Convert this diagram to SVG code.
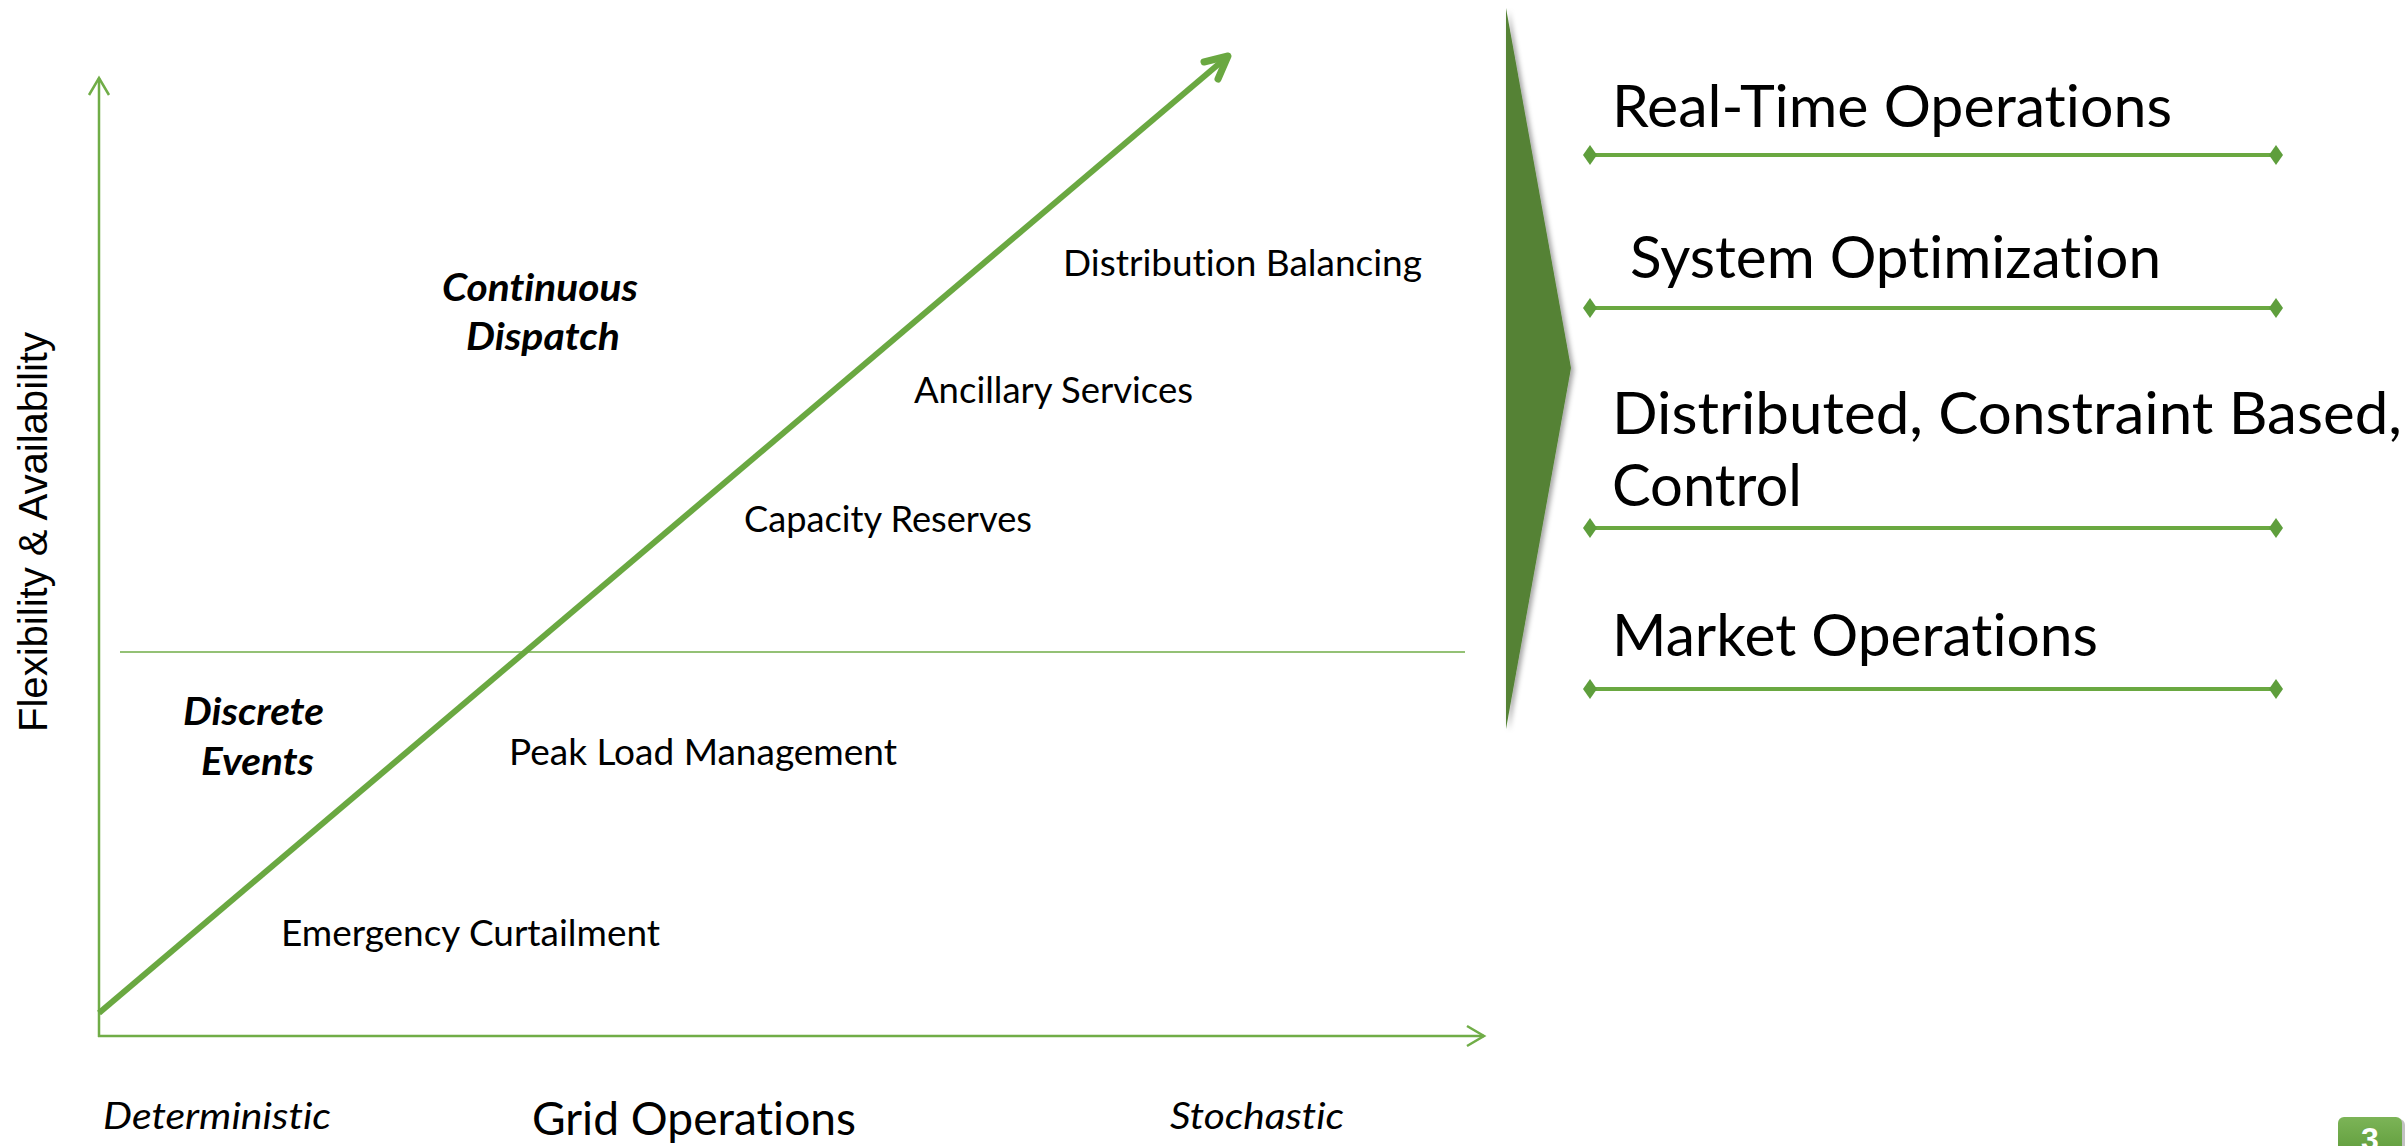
<svg xmlns="http://www.w3.org/2000/svg" width="2405" height="1146" viewBox="0 0 2405 1146">
  <style>
    text { font-variant-ligatures: none; font-feature-settings: "liga" 0, "clig" 0; }
    .lbl { font-family: Lato, "Open Sans", "Liberation Sans", sans-serif; font-size: 37px; fill: #000; }
    .em { font-family: Lato, "Open Sans", "Liberation Sans", sans-serif; font-size: 38px; font-weight: bold; font-style: italic; fill: #000; }
    .axisnote { font-family: Lato, "Open Sans", "Liberation Sans", sans-serif; font-size: 37px; font-style: italic; fill: #000; }
    .axistitle { font-family: Lato, "Open Sans", "Liberation Sans", sans-serif; font-size: 46px; fill: #000; }
    .big { font-family: Lato, "Open Sans", "Liberation Sans", sans-serif; font-size: 59px; fill: #000; }
    .axis { stroke: #70AD47; stroke-width: 2.5; fill: none; }
    .rule { stroke: #6AA841; stroke-width: 4; fill: none; }
    .dia { fill: #5E9E3C; }
  </style>
  <defs>
    <filter id="soft" x="-20%" y="-5%" width="160%" height="110%">
      <feGaussianBlur in="SourceAlpha" stdDeviation="2.5"/>
      <feOffset dx="3" dy="2" result="b"/>
      <feFlood flood-color="#000" flood-opacity="0.35"/>
      <feComposite in2="b" operator="in"/>
      <feMerge><feMergeNode/><feMergeNode in="SourceGraphic"/></feMerge>
    </filter>
    <linearGradient id="pg" x1="0" y1="0" x2="0" y2="1">
      <stop offset="0" stop-color="#7CB457"/>
      <stop offset="1" stop-color="#5E9B3A"/>
    </linearGradient>
  </defs>

  <rect width="2405" height="1146" fill="#fff"/>

  <!-- chart frame and trend -->
  <g id="connectors">
    <!-- vertical axis -->
    <path class="axis" d="M99 1037 V78"/>
    <path class="axis" d="M89 95 L99 78 L109 95"/>
    <!-- horizontal axis -->
    <path class="axis" d="M98 1036 H1484"/>
    <path class="axis" d="M1467 1026 L1484 1036 L1467 1046"/>
    <!-- threshold between regimes -->
    <path d="M120 652 H1465" stroke="#70AD47" stroke-width="1.6" fill="none"/>
    <!-- trend arrow -->
    <path d="M99 1013 L1227 57" stroke="#6AA841" stroke-width="6" fill="none"/>
    <path d="M1204 62 L1228 56 L1218 79" stroke="#6AA841" stroke-width="7" stroke-linecap="round" stroke-linejoin="round" fill="none"/>
  </g>

  <!-- axis titles -->
  <g id="y-title">
    <text x="0" y="0" transform="translate(47 532) rotate(-90)" text-anchor="middle" font-family="'Liberation Sans', Arial, sans-serif" font-size="40" textLength="400" lengthAdjust="spacingAndGlyphs">Flexibility &amp; Availability</text>
  </g>
  <g id="x-title">
    <text class="axisnote" x="103" y="1129" textLength="228" lengthAdjust="spacingAndGlyphs">Deterministic</text>
    <text class="axistitle" x="532" y="1135" textLength="324" lengthAdjust="spacingAndGlyphs">Grid Operations</text>
    <text class="axisnote" x="1170" y="1129" textLength="174" lengthAdjust="spacingAndGlyphs">Stochastic</text>
  </g>

  <!-- regime names -->
  <g id="continuous-dispatch">
    <text class="em" x="442" y="301" textLength="196" lengthAdjust="spacingAndGlyphs">Continuous</text>
    <text class="em" x="466" y="350" textLength="154" lengthAdjust="spacingAndGlyphs">Dispatch</text>
  </g>
  <g id="discrete-events">
    <text class="em" x="183" y="725" textLength="141" lengthAdjust="spacingAndGlyphs">Discrete</text>
    <text class="em" x="201" y="775" textLength="113" lengthAdjust="spacingAndGlyphs">Events</text>
  </g>

  <!-- services along the trend -->
  <g id="distribution-balancing"><text class="lbl" x="1063" y="276" textLength="359" lengthAdjust="spacingAndGlyphs">Distribution Balancing</text></g>
  <g id="ancillary-services"><text class="lbl" x="914" y="403" textLength="279" lengthAdjust="spacingAndGlyphs">Ancillary Services</text></g>
  <g id="capacity-reserves"><text class="lbl" x="744" y="532" textLength="288" lengthAdjust="spacingAndGlyphs">Capacity Reserves</text></g>
  <g id="peak-load"><text class="lbl" x="509" y="765" textLength="388" lengthAdjust="spacingAndGlyphs">Peak Load Management</text></g>
  <g id="emergency-curtailment"><text class="lbl" x="281" y="946" textLength="379" lengthAdjust="spacingAndGlyphs">Emergency Curtailment</text></g>

  <!-- chevron -->
  <g id="chevron">
    <polygon points="1506,8 1571,368 1506,729" fill="#548235" filter="url(#soft)"/>
  </g>

  <!-- capability list -->
  <g id="real-time">
    <text class="big" x="1612" y="127" textLength="560" lengthAdjust="spacingAndGlyphs">Real-Time Operations</text>
    <path class="rule" d="M1590 155 H2276"/>
    <polygon class="dia" points="1590,145 1597,155 1590,165 1583,155"/>
    <polygon class="dia" points="2276,145 2283,155 2276,165 2269,155"/>
  </g>
  <g id="system-optimization">
    <text class="big" x="1630" y="278" textLength="531" lengthAdjust="spacingAndGlyphs">System Optimization</text>
    <path class="rule" d="M1590 308 H2276"/>
    <polygon class="dia" points="1590,298 1597,308 1590,318 1583,308"/>
    <polygon class="dia" points="2276,298 2283,308 2276,318 2269,308"/>
  </g>
  <g id="distributed-control">
    <text class="big" x="1612" y="434" textLength="790" lengthAdjust="spacingAndGlyphs">Distributed, Constraint Based,</text>
    <text class="big" x="1612" y="506" textLength="190" lengthAdjust="spacingAndGlyphs">Control</text>
    <path class="rule" d="M1590 528 H2276"/>
    <polygon class="dia" points="1590,518 1597,528 1590,538 1583,528"/>
    <polygon class="dia" points="2276,518 2283,528 2276,538 2269,528"/>
  </g>
  <g id="market-operations">
    <text class="big" x="1612" y="656" textLength="486" lengthAdjust="spacingAndGlyphs">Market Operations</text>
    <path class="rule" d="M1590 689 H2276"/>
    <polygon class="dia" points="1590,679 1597,689 1590,699 1583,689"/>
    <polygon class="dia" points="2276,679 2283,689 2276,699 2269,689"/>
  </g>

  <!-- page number -->
  <g id="page-number">
    <rect x="2341" y="1119" width="64" height="40" rx="6" fill="#9a9a9a" opacity="0.6"/>
    <rect x="2338" y="1117" width="64" height="40" rx="6" fill="url(#pg)"/>
    <text x="2370" y="1150" text-anchor="middle" font-family="'Liberation Sans', Arial, sans-serif" font-size="32" font-weight="bold" fill="#fff">3</text>
  </g>
</svg>
